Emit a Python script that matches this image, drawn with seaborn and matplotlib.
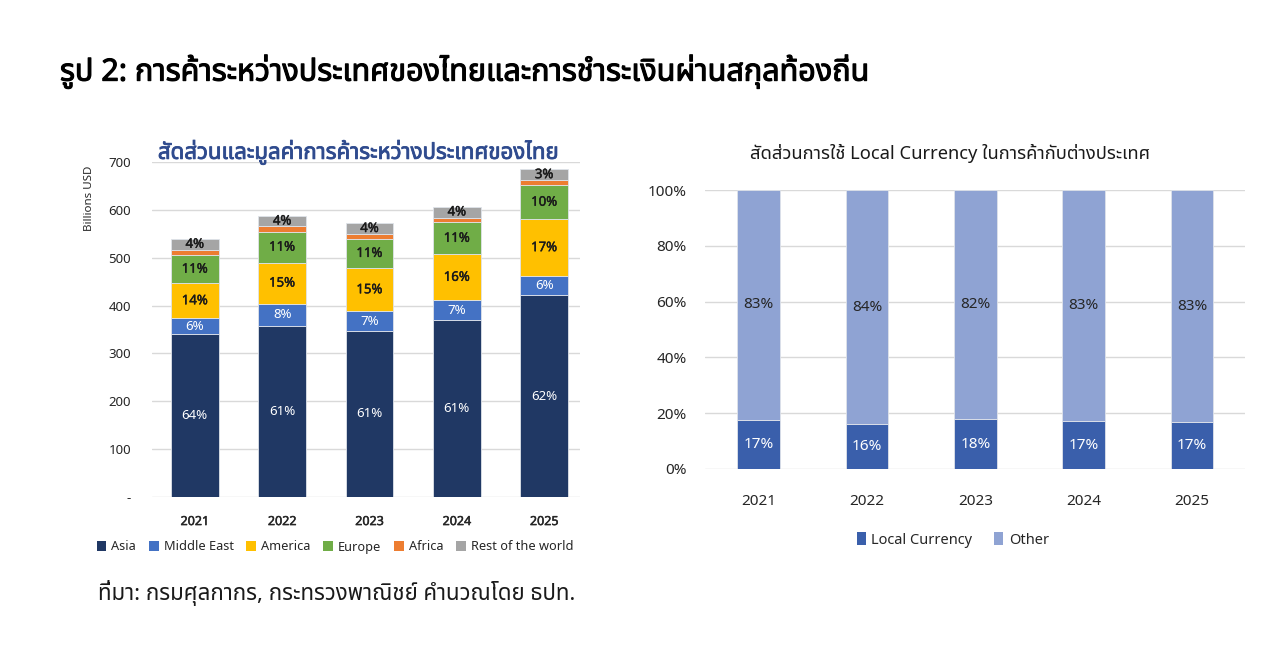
import matplotlib
matplotlib.use("Agg")
import matplotlib.pyplot as plt
import matplotlib.patheffects as pe
import seaborn as sns
import pandas as pd
import numpy as np
from matplotlib import font_manager, ft2font
from matplotlib.patches import Patch

# ---------------- data ----------------
years = ["2021", "2022", "2023", "2024", "2025"]
regions = ["Asia", "Middle East", "America", "Europe", "Africa", "Rest of the world"]
asia = [340, 357, 347, 369, 422]
middle_east = [33, 47, 41, 42, 40]
america = [74, 86, 90, 96, 118]
europe = [58, 64, 62, 67, 72]
africa = [12, 12, 9, 10, 10]
rest = [22, 21, 24, 23, 23]
asia_lbl = ["64%", "61%", "61%", "61%", "62%"]
me_lbl = ["6%", "8%", "7%", "7%", "6%"]
am_lbl = ["14%", "15%", "15%", "16%", "17%"]
eu_lbl = ["11%", "11%", "11%", "11%", "10%"]
af_lbl = ["", "", "", "", ""]
rest_lbl = ["4%", "4%", "4%", "4%", "3%"]
left_yticks = [0, 100, 200, 300, 400, 500, 600, 700]
left_yticklabels = ["-", "100", "200", "300", "400", "500", "600", "700"]

local_ccy = [17.6, 16.0, 17.8, 17.2, 16.7]
other_ccy = [82.4, 84.0, 82.2, 82.8, 83.3]
local_lbl = ["17%", "16%", "18%", "17%", "17%"]
other_lbl = ["83%", "84%", "82%", "83%", "83%"]
right_yticks = [0, 20, 40, 60, 80, 100]
right_yticklabels = ["0%", "20%", "40%", "60%", "80%", "100%"]

main_title = "รูป 2: การค้าระหว่างประเทศของไทยและการชำระเงินผ่านสกุลท้องถิ่น"
left_title = "สัดส่วนและมูลค่าการค้าระหว่างประเทศของไทย"
right_title = "สัดส่วนการใช้ Local Currency ในการค้ากับต่างประเทศ"
source_text = "ที่มา: กรมศุลกากร, กระทรวงพาณิชย์ คำนวณโดย ธปท."

# ---------------- fonts ----------------
def thai_fonts():
    found = []
    for f in font_manager.fontManager.ttflist:
        try:
            cm = ft2font.FT2Font(f.fname).get_charmap()
        except Exception:
            continue
        if 0x0E01 in cm and 0x0E33 in cm and f.name not in [x[0] for x in found]:
            found.append((f.name, set(cm.keys())))
    pref = ["Noto Sans Thai", "Noto Sans Thai UI", "Tahoma", "Leelawadee UI",
            "Loma", "Garuda", "Sarabun", "TH Sarabun New"]
    found.sort(key=lambda n: pref.index(n[0]) if n[0] in pref else len(pref))
    return found

sns.set_theme(style="white")
TH = thai_fonts()
TH_NAME = TH[0][0] if TH else "DejaVu Sans"
TH_CMAP = TH[0][1] if TH else set()
FAM = ["Noto Sans", TH_NAME, "DejaVu Sans"]
plt.rcParams["font.family"] = FAM


def boldfx(color, w=0.7):
    return [pe.withStroke(linewidth=w, foreground=color)]


def single_font_ok(s):
    return all(ord(c) in TH_CMAP for c in s)


colors = ["#203864", "#4472C4", "#FFC000", "#70AD47", "#ED7D31", "#A5A5A5"]
lbl_colors = ["white", "white", "#1a1a1a", "#1a1a1a", "#1a1a1a", "#1a1a1a"]
lbl_bold = [False, False, True, True, True, True]

fig = plt.figure(figsize=(12.8, 6.49), dpi=100)
fig.patch.set_facecolor("white")

# ---------------- left chart ----------------
axL = fig.add_axes([152/1280, 1-497/649, 428/1280, 335/649])
series = [asia, middle_east, america, europe, africa, rest]
labels = [asia_lbl, me_lbl, am_lbl, eu_lbl, af_lbl, rest_lbl]
bottom = np.zeros(len(years))
for name, vals, col, lb, lc, lbold in zip(regions, series, colors, labels, lbl_colors, lbl_bold):
    df = pd.DataFrame({"year": years, "value": vals})
    sns.barplot(data=df, x="year", y="value", color=col, width=0.545,
                bottom=bottom, ax=axL, saturation=1, edgecolor="#dfe3ea",
                linewidth=0.6, errorbar=None)
    cont = axL.containers[-1]
    txts = axL.bar_label(cont, labels=lb, label_type="center", color=lc, fontsize=9.5,
                         family=["Noto Sans"])
    if lbold:
        for t in txts:
            t.set_path_effects(boldfx(lc, 0.3))
    bottom = bottom + np.array(vals)

axL.set_ylim(0, 700)
axL.set_xlim(-0.49, 4.41)
axL.set_yticks(left_yticks)
axL.set_yticklabels(left_yticklabels)
axL.yaxis.grid(True, color="#d9d9d9", linewidth=1)
axL.set_axisbelow(True)
for s in axL.spines.values():
    s.set_visible(False)
axL.tick_params(axis="y", length=0, pad=15, labelsize=9.5, labelcolor="#262626")
axL.tick_params(axis="x", length=0, pad=13, labelsize=9, labelcolor="#262626")
for t in axL.get_xticklabels():
    t.set_family(["Noto Sans"])
    t.set_path_effects(boldfx("#262626", 0.35))
axL.set_xlabel("")
axL.set_ylabel("")
fig.text(90/1280, 1-198/649, "Billions USD", rotation=90, ha="center", va="center",
         fontsize=8.3, color="#262626")
lt_kw = {}
if single_font_ok(left_title):
    lt_kw = dict(family=[TH_NAME], path_effects=boldfx("#2F4B8E", 0.6))
fig.text(358/1280, 1-152/649, left_title, ha="center", va="center",
         fontsize=16, color="#2F4B8E", **lt_kw)
handlesL = [Patch(facecolor=c, edgecolor="none") for c in colors]
fig.legend(handlesL, regions, loc="center", bbox_to_anchor=(335/1280, 1-547/649),
           ncol=6, frameon=False, fontsize=9.2, handlelength=0.75, handleheight=0.75,
           handletextpad=0.4, columnspacing=1.0, labelcolor="#262626")

# ---------------- right chart ----------------
axR = fig.add_axes([705/1280, 1-469/649, 540/1280, 279/649])
dfl = pd.DataFrame({"year": years, "value": local_ccy})
sns.barplot(data=dfl, x="year", y="value", color="#3A5FAB", width=0.394,
            ax=axR, saturation=1, errorbar=None, edgecolor="#dfe3ea", linewidth=0.6)
axR.bar_label(axR.containers[-1], labels=local_lbl, label_type="center",
              color="white", fontsize=11)
dfo = pd.DataFrame({"year": years, "value": other_ccy})
sns.barplot(data=dfo, x="year", y="value", color="#8FA3D3", width=0.394,
            bottom=np.array(local_ccy), ax=axR, saturation=1, errorbar=None,
            edgecolor="#dfe3ea", linewidth=0.6)
axR.bar_label(axR.containers[-1], labels=other_lbl, label_type="center",
              color="#262626", fontsize=11)
axR.set_ylim(0, 100)
axR.set_xlim(-0.496, 4.49)
axR.set_yticks(right_yticks)
axR.set_yticklabels(right_yticklabels)
axR.yaxis.grid(True, color="#d9d9d9", linewidth=1)
axR.set_axisbelow(True)
for s in axR.spines.values():
    s.set_visible(False)
axR.tick_params(axis="y", length=0, pad=13, labelsize=11, labelcolor="#262626")
axR.tick_params(axis="x", length=0, pad=18, labelsize=11, labelcolor="#262626")
axR.set_xlabel("")
axR.set_ylabel("")
fig.text(950/1280, 1-153/649, right_title, ha="center", va="center",
         fontsize=13.2, color="#1a1a1a")
handlesR = [Patch(facecolor=c, edgecolor="none") for c in ["#3A5FAB", "#8FA3D3"]]
fig.legend(handlesR, ["Local Currency", "Other"], loc="center",
           bbox_to_anchor=(953/1280, 1-540/649), ncol=2, frameon=False, fontsize=10.5,
           handlelength=0.6, handleheight=0.9, handletextpad=0.4, columnspacing=1.5,
           labelcolor="#262626")

# ---------------- figure texts ----------------
mt_kw = {}
if single_font_ok(main_title):
    mt_kw = dict(family=[TH_NAME], path_effects=boldfx("black", 0.8))
fig.text(60/1280, 1-72/649, main_title, ha="left", va="center",
         fontsize=22, color="black", **mt_kw)
fig.text(98/1280, 1-593/649, source_text, ha="left", va="center",
         fontsize=16, color="#1a1a1a")

fig.savefig("out.png", dpi=100, facecolor="white")
